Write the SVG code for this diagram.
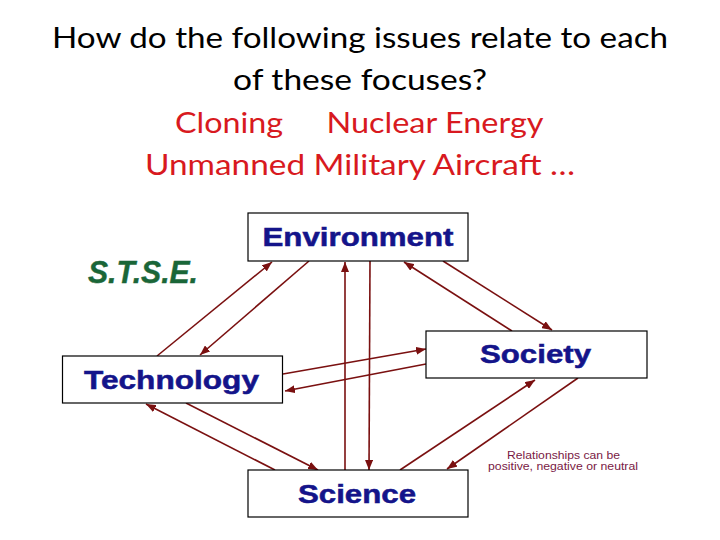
<svg xmlns="http://www.w3.org/2000/svg" width="720" height="540" viewBox="0 0 720 540">
<defs>
<style>
.title{font-family:Lato,"Open Sans","Liberation Sans",sans-serif;font-size:28px;text-anchor:middle}
.blk{fill:#000}
.red{fill:#d81920}
.box{fill:#fff;stroke:#000;stroke-width:1.2}
.lbl{font-family:"Liberation Sans",Arial,sans-serif;font-weight:bold;font-size:25px;fill:#14148a;stroke:#14148a;stroke-width:0.5;text-anchor:middle}
.con line{stroke:#7a1010;stroke-width:1.6;marker-end:url(#ah)}
.note{font-family:"Liberation Sans",Arial,sans-serif;font-size:10px;fill:#7a1a45;text-anchor:middle}
</style>
<marker id="ah" viewBox="0 0 10 8" refX="10" refY="4" markerWidth="10" markerHeight="8" markerUnits="userSpaceOnUse" orient="auto">
<path d="M0,0 L10,4 L0,8 z" fill="#7a1010"/>
</marker>
</defs>
<rect width="720" height="540" fill="#fff"/>
<g id="title">
<text class="title blk" x="360" y="48" textLength="616" lengthAdjust="spacingAndGlyphs">How do the following issues relate to each</text>
<text class="title blk" x="360" y="90" textLength="254" lengthAdjust="spacingAndGlyphs">of these focuses?</text>
<text class="title red" x="229" y="133" textLength="108" lengthAdjust="spacingAndGlyphs">Cloning</text>
<text class="title red" x="435" y="133" textLength="217" lengthAdjust="spacingAndGlyphs">Nuclear Energy</text>
<text class="title red" x="360" y="175" textLength="430" lengthAdjust="spacingAndGlyphs">Unmanned Military Aircraft …</text>
</g>
<g id="stse">
<text x="143" y="283" font-family="'Liberation Sans',Arial,sans-serif" font-weight="bold" font-style="italic" font-size="31" fill="#1a6638" stroke="#1a6638" stroke-width="0.4" text-anchor="middle" textLength="110" lengthAdjust="spacingAndGlyphs">S.T.S.E.</text>
</g>
<g id="connectors" class="con">
<line x1="157" y1="356" x2="272" y2="262"/>
<line x1="309" y1="261" x2="200" y2="355"/>
<line x1="345" y1="470" x2="345" y2="262"/>
<line x1="370" y1="261" x2="369" y2="470"/>
<line x1="512" y1="331" x2="404" y2="262"/>
<line x1="443" y1="261" x2="552" y2="330"/>
<line x1="283" y1="374" x2="426" y2="349"/>
<line x1="426" y1="364" x2="285" y2="391"/>
<line x1="275" y1="470" x2="146" y2="404"/>
<line x1="186" y1="403" x2="318" y2="470"/>
<line x1="400" y1="470" x2="535" y2="380"/>
<line x1="578" y1="378" x2="447" y2="469"/>
</g>
<g id="environment">
<rect class="box" x="248" y="213" width="220" height="48"/>
<text class="lbl" x="358" y="246" textLength="191" lengthAdjust="spacingAndGlyphs">Environment</text>
</g>
<g id="society">
<rect class="box" x="426" y="331" width="221" height="47"/>
<text class="lbl" x="535.5" y="363" textLength="111" lengthAdjust="spacingAndGlyphs">Society</text>
</g>
<g id="technology">
<rect class="box" x="62.5" y="356" width="220" height="47"/>
<text class="lbl" x="171.5" y="389" textLength="175" lengthAdjust="spacingAndGlyphs">Technology</text>
</g>
<g id="science">
<rect class="box" x="248" y="470" width="220" height="47"/>
<text class="lbl" x="357" y="503" textLength="118" lengthAdjust="spacingAndGlyphs">Science</text>
</g>
<g id="note">
<text class="note" x="563.5" y="459" textLength="113" lengthAdjust="spacingAndGlyphs">Relationships can be</text>
<text class="note" x="563" y="470" textLength="150" lengthAdjust="spacingAndGlyphs">positive, negative or neutral</text>
</g>
</svg>
